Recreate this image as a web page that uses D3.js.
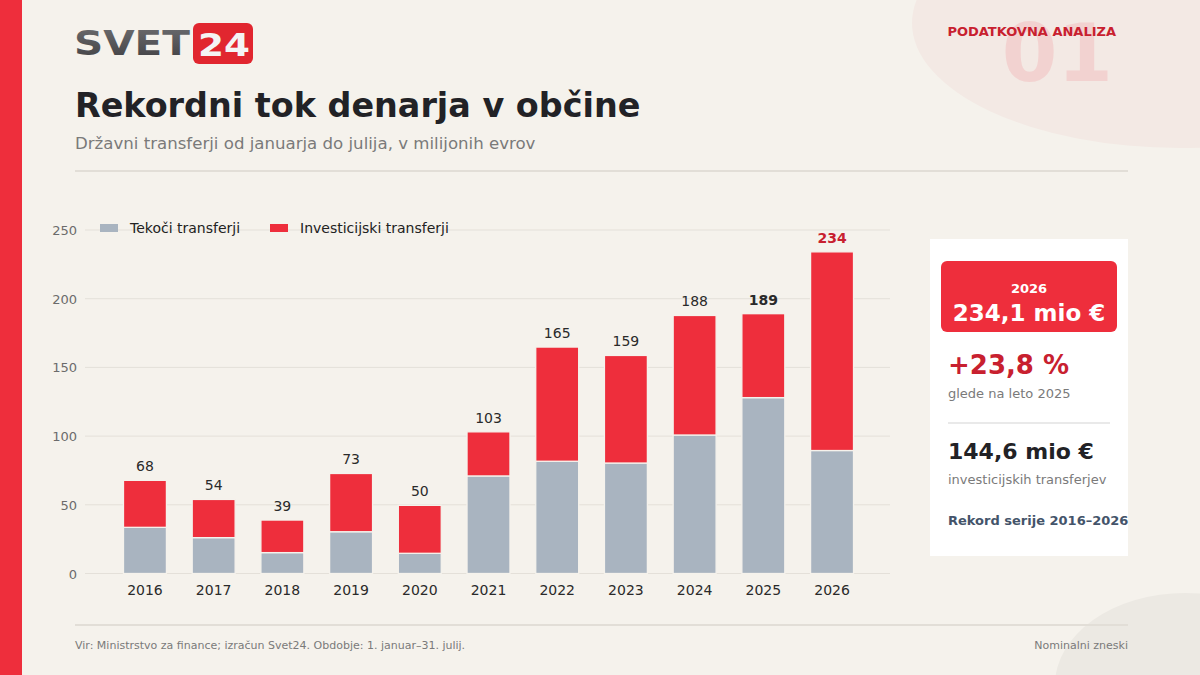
<!DOCTYPE html>
<html>
<head>
<meta charset="utf-8">
<script src="https://cdn.jsdelivr.net/npm/d3@7"></script>
<style>
  body { margin: 0; background: #f5f2ec; }
  svg { display: block; font-family: 'DejaVu Sans', sans-serif; }
</style>
</head>
<body>
<div class="chart"></div>
<script>
// data - state transfers jan-jul, mio EUR
const years = ['2016', '2017', '2018', '2019', '2020', '2021', '2022', '2023', '2024', '2025', '2026'];
const tekoci = [33.6, 26.1, 15.2, 30.4, 14.7, 71.0, 81.7, 80.4, 100.8, 128.0, 89.5];
const investicijski = [34.2, 27.8, 23.7, 42.4, 34.9, 32.1, 83.1, 78.3, 87.0, 61.1, 144.6];
const yTicks = [0, 50, 100, 150, 200, 250];
const seriesNames = ['Tekoči transferji', 'Investicijski transferji'];

const width = 1200, height = 675;
const red = '#ee2e3c', darkRed = '#c8202f', grey = '#a9b4c0';

let svg = d3.select('.chart')
    .append('svg')
    .attr('width', width)
    .attr('height', height);

// background + decoration
svg.append('rect').attr('width', width).attr('height', height).attr('fill', '#f5f2ec');
svg.append('ellipse').attr('cx', 1180).attr('cy', 23).attr('rx', 268).attr('ry', 125).attr('fill', '#f3e9e4');
svg.append('ellipse').attr('cx', 1185).attr('cy', 685).attr('rx', 130).attr('ry', 92).attr('fill', '#ece9e3');
svg.append('rect').attr('width', 22).attr('height', height).attr('fill', red);

svg.append('text')
    .attr('x', 1113).attr('y', 81)
    .attr('text-anchor', 'end')
    .attr('font-weight', 'bold')
    .attr('font-size', 80)
    .attr('fill', '#f2d2d0')
    .text('01');
svg.append('text')
    .attr('x', 1116).attr('y', 36)
    .attr('text-anchor', 'end')
    .attr('font-weight', 'bold')
    .attr('font-size', 13)
    .attr('fill', darkRed)
    .text('PODATKOVNA ANALIZA');

// logo
let defs = svg.append('defs');
let lg = defs.append('linearGradient').attr('id', 'logoGrad').attr('x1', 0).attr('y1', 0).attr('x2', 0).attr('y2', 1);
lg.append('stop').attr('offset', '0%').attr('stop-color', '#6d6d70');
lg.append('stop').attr('offset', '100%').attr('stop-color', '#3f3f42');
svg.append('text')
    .attr('x', 74).attr('y', 55)
    .attr('font-weight', 'bold')
    .attr('font-size', 33)
    .attr('textLength', 116)
    .attr('lengthAdjust', 'spacingAndGlyphs')
    .attr('fill', 'url(#logoGrad)')
    .text('SVET');
svg.append('rect')
    .attr('x', 193).attr('y', 23).attr('width', 60).attr('height', 41)
    .attr('rx', 6).attr('fill', '#e1262f');
svg.append('text')
    .attr('x', 198).attr('y', 56)
    .attr('font-weight', 'bold')
    .attr('font-size', 32)
    .attr('textLength', 52)
    .attr('lengthAdjust', 'spacingAndGlyphs')
    .attr('fill', '#f4f4f4')
    .text('24');

// titles
svg.append('text')
    .attr('x', 75).attr('y', 117)
    .attr('font-weight', 'bold')
    .attr('font-size', 33.4)
    .attr('fill', '#222226')
    .text('Rekordni tok denarja v občine');
svg.append('text')
    .attr('x', 75).attr('y', 149)
    .attr('font-size', 16.6)
    .attr('fill', '#7a7a7a')
    .text('Državni transferji od januarja do julija, v milijonih evrov');
svg.append('line')
    .attr('x1', 75).attr('x2', 1128).attr('y1', 171).attr('y2', 171)
    .attr('stroke', '#e2ded7').attr('stroke-width', 2);

// scales
let x = d3.scaleBand()
    .domain(years)
    .range([110.6, 866.4])
    .paddingInner(0.375)
    .paddingOuter(0.1875);
let y = d3.scaleLinear()
    .domain([0, 250])
    .range([573.5, 230]);

// grid
let grid = svg.append('g');
grid.selectAll('line')
    .data(yTicks)
    .enter().append('line')
    .attr('x1', 85).attr('x2', 890)
    .attr('y1', d => y(d)).attr('y2', d => y(d))
    .attr('stroke', '#e4e0d9').attr('stroke-width', 1);

// y axis
let axis_y = d3.axisLeft(y).tickValues(yTicks).tickSize(0).tickPadding(0);
svg.append('g')
    .attr('transform', `translate(${77}, ${0})`)
    .call(axis_y)
    .call(g => g.select('.domain').remove())
    .call(g => g.selectAll('text')
        .attr('font-family', 'DejaVu Sans')
        .attr('font-size', 13)
        .attr('fill', '#6b6b6b')
        .attr('dy', '0.35em'));

// x axis
let axis_x = d3.axisBottom(x).tickSize(0).tickPadding(0);
svg.append('g')
    .attr('transform', `translate(${0}, ${583})`)
    .call(axis_x)
    .call(g => g.select('.domain').remove())
    .call(g => g.selectAll('text')
        .attr('font-family', 'DejaVu Sans')
        .attr('font-size', 14)
        .attr('fill', '#2a2a2a')
        .attr('dy', '0.85em'));

// stacked bars
let rows = years.map((yr, i) => ({year: yr, tekoci: tekoci[i], investicijski: investicijski[i]}));
let stack = d3.stack().keys(['tekoci', 'investicijski'])(rows);
let colors = [grey, red];

svg.append('g')
    .selectAll('g')
    .data(stack)
    .enter().append('g')
    .attr('fill', (d, i) => colors[i])
    .selectAll('rect')
    .data(d => d)
    .enter().append('rect')
    .attr('x', d => x(d.data.year))
    .attr('width', x.bandwidth())
    .attr('y', d => y(d[1]))
    .attr('height', d => y(d[0]) - y(d[1]))
    .attr('stroke', '#f5f2ec')
    .attr('stroke-width', 1.3);

// totals
svg.append('g')
    .selectAll('text')
    .data(rows)
    .enter().append('text')
    .attr('x', d => x(d.year) + x.bandwidth() / 2)
    .attr('y', d => y(d.tekoci + d.investicijski) - 9)
    .attr('text-anchor', 'middle')
    .attr('font-size', 14)
    .attr('font-weight', d => (d.year === '2025' || d.year === '2026') ? 'bold' : 'normal')
    .attr('fill', d => d.year === '2026' ? darkRed : '#2a2a2a')
    .text(d => Math.round(d.tekoci + d.investicijski));

// legend
let legend = svg.append('g').attr('transform', 'translate(100, 228)');
let lx = [0, 170];
seriesNames.forEach((name, i) => {
    legend.append('rect')
        .attr('x', lx[i]).attr('y', -4).attr('width', 18).attr('height', 8)
        .attr('fill', colors[i]);
    legend.append('text')
        .attr('x', lx[i] + 30).attr('y', 5)
        .attr('font-size', 14)
        .attr('fill', '#222')
        .text(name);
});

// side panel
let total26 = tekoci[10] + investicijski[10];
let total25 = tekoci[9] + investicijski[9];
let fmt = v => v.toFixed(1).replace('.', ',');
let panel = svg.append('g');
panel.append('rect').attr('x', 930).attr('y', 239).attr('width', 198).attr('height', 317).attr('fill', '#ffffff');
panel.append('rect').attr('x', 941).attr('y', 261).attr('width', 176).attr('height', 71).attr('rx', 6).attr('fill', red);
panel.append('text')
    .attr('x', 1029).attr('y', 293)
    .attr('text-anchor', 'middle')
    .attr('font-weight', 'bold').attr('font-size', 13).attr('fill', '#fff')
    .text(years[10]);
panel.append('text')
    .attr('x', 1029).attr('y', 321)
    .attr('text-anchor', 'middle')
    .attr('font-weight', 'bold').attr('font-size', 23).attr('fill', '#fff')
    .text(fmt(total26) + ' mio €');
panel.append('text')
    .attr('x', 948).attr('y', 374)
    .attr('font-weight', 'bold').attr('font-size', 26).attr('fill', darkRed)
    .text('+' + fmt((total26 / total25 - 1) * 100) + ' %');
panel.append('text')
    .attr('x', 948).attr('y', 398)
    .attr('font-size', 13).attr('fill', '#7a7a7a')
    .text('glede na leto 2025');
panel.append('line')
    .attr('x1', 948).attr('x2', 1110).attr('y1', 423).attr('y2', 423)
    .attr('stroke', '#e2e2e2').attr('stroke-width', 1.5);
panel.append('text')
    .attr('x', 948).attr('y', 459)
    .attr('font-weight', 'bold').attr('font-size', 22).attr('fill', '#222226')
    .text(fmt(investicijski[10]) + ' mio €');
panel.append('text')
    .attr('x', 948).attr('y', 484)
    .attr('font-size', 13).attr('fill', '#7a7a7a')
    .text('investicijskih transferjev');
panel.append('text')
    .attr('x', 948).attr('y', 525)
    .attr('font-weight', 'bold').attr('font-size', 13).attr('fill', '#44546a')
    .text('Rekord serije 2016–2026');

// footer
svg.append('line')
    .attr('x1', 75).attr('x2', 1128).attr('y1', 625).attr('y2', 625)
    .attr('stroke', '#e2ded7').attr('stroke-width', 2);
svg.append('text')
    .attr('x', 75).attr('y', 649)
    .attr('font-size', 11).attr('fill', '#7a7a7a')
    .text('Vir: Ministrstvo za finance; izračun Svet24. Obdobje: 1. januar–31. julij.');
svg.append('text')
    .attr('x', 1128).attr('y', 649)
    .attr('text-anchor', 'end')
    .attr('font-size', 11).attr('fill', '#7a7a7a')
    .text('Nominalni zneski');
</script>
</body>
</html>
